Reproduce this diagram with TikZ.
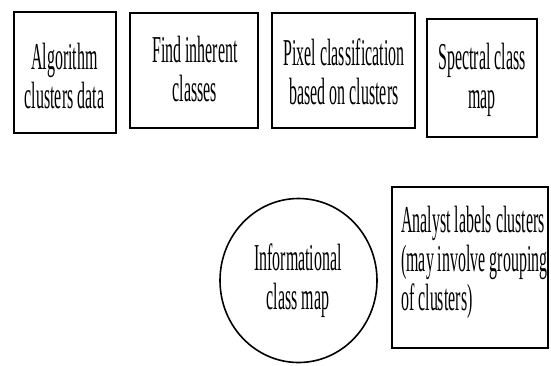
\documentclass[tikz,border=0pt]{standalone}
\usepackage{fontspec}
\setmainfont[FakeStretch=0.42]{Liberation Serif}
\usetikzlibrary{shapes.geometric}
\tikzset{
  x=1pt, y=-1pt,
  txt/.style={font=\fontsize{38}{39}\selectfont, align=center, inner sep=0pt},
  boxstyle/.style={draw, line width=2pt, inner sep=0pt},
  ovalstyle/.style={draw, line width=1.6pt, ellipse, inner sep=0pt},
}
\begin{document}
\begin{tikzpicture}
\useasboundingbox (0,0) rectangle (551,365);
% boxes
\node[boxstyle, minimum width=102pt, minimum height=121pt] (b1) at (64.5,72) {};
\node[boxstyle, minimum width=128pt, minimum height=115pt] (b2) at (194,70.5) {};
\node[boxstyle, minimum width=143pt, minimum height=115pt] (b3) at (343.5,70.5) {};
\node[boxstyle, minimum width=110pt, minimum height=118pt] (b4) at (482,78) {};
\node[ovalstyle, minimum width=157pt, minimum height=164pt] (c1) at (298.5,280.5) {};
\node[boxstyle, minimum width=156pt, minimum height=161pt] (b5) at (470,267.5) {};
% texts
\node[txt] (t1) at (64.5,76) {Algorithm\\clusters data};
\node[txt] (t2) at (195,69) {Find inherent\\classes};
\node[txt] (t3) at (344,72) {Pixel classification\\based on clusters};
\node[txt] (t4) at (482,80) {Spectral class\\map};
\node[txt] (t5) at (298,281) {Informational\\class map};
\node[txt, align=left, anchor=west] (t6) at (401,262) {Analyst labels clusters\\(may involve grouping\\of clusters)};
\end{tikzpicture}
\end{document}
